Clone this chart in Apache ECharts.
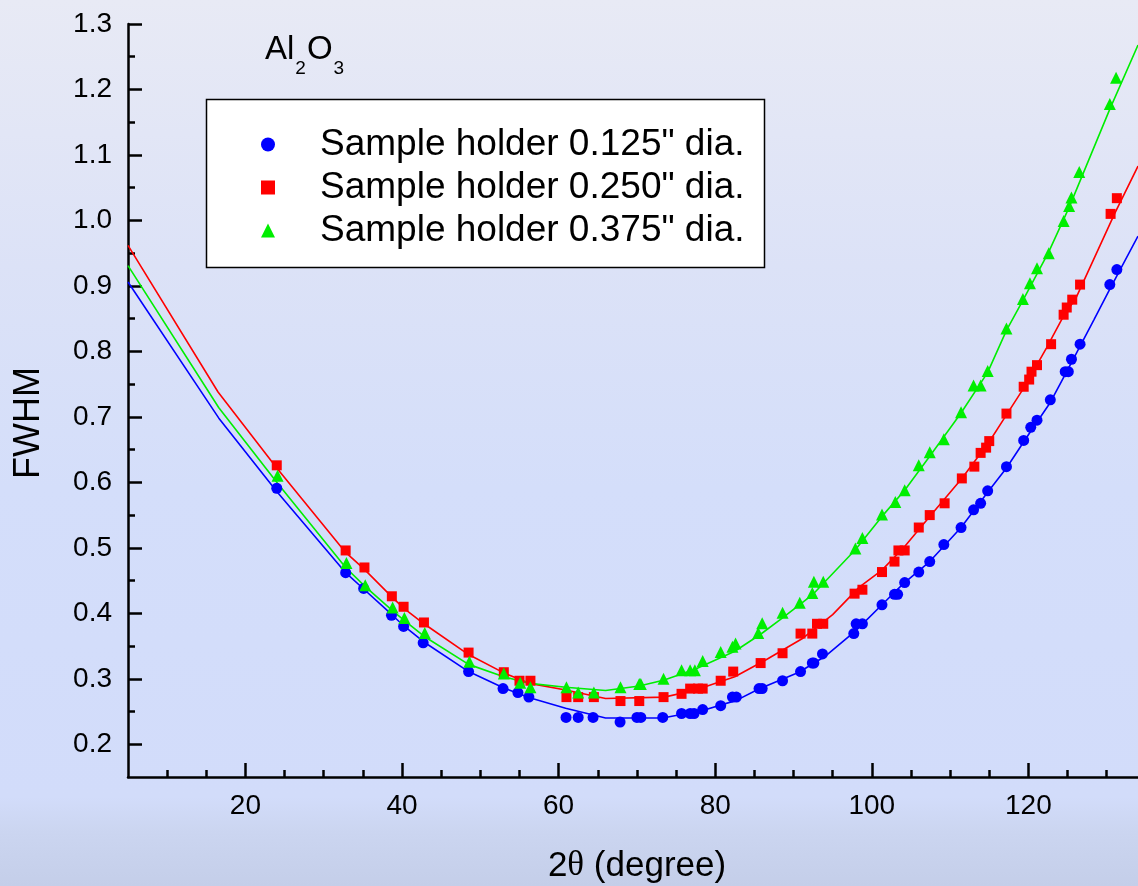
<!DOCTYPE html>
<html>
<head>
<meta charset="utf-8">
<script src="https://cdn.jsdelivr.net/npm/echarts@6/dist/echarts.min.js"></script>
<style>
  html, body { margin: 0; padding: 0; }
  #chart { width: 1138px; height: 886px; }
</style>
</head>
<body>
<div id="chart"></div>
<script>
// FWHM of Al2O3 reflections vs 2theta for three sample holder diameters

const FONT = '"Liberation Sans", Arial, sans-serif';

// Measured points, 0.125" holder
const holder125X = [24.0, 32.8, 35.1, 38.65, 40.2, 42.7, 48.5, 52.9, 54.8, 56.2, 60.95, 62.5, 64.4, 67.85, 70.0, 70.5, 73.3, 75.7, 76.8, 77.3, 78.4, 80.7, 82.2, 82.7, 85.6, 86.0, 88.6, 90.9, 92.4, 92.6, 93.7, 97.7, 98.0, 98.8, 101.3, 102.9, 103.3, 104.2, 106.0, 107.4, 109.2, 111.4, 113.0, 113.9, 114.8, 117.2, 119.4, 120.3, 121.1, 122.8, 124.7, 125.1, 125.5, 126.6, 130.4, 131.3];
const holder125Y = [0.591, 0.462, 0.438, 0.397, 0.380, 0.355, 0.311, 0.285, 0.279, 0.272, 0.241, 0.241, 0.241, 0.234, 0.241, 0.241, 0.241, 0.247, 0.247, 0.247, 0.253, 0.259, 0.272, 0.272, 0.285, 0.285, 0.297, 0.311, 0.324, 0.324, 0.338, 0.369, 0.384, 0.384, 0.413, 0.429, 0.429, 0.447, 0.463, 0.479, 0.505, 0.531, 0.558, 0.568, 0.587, 0.624, 0.664, 0.684, 0.695, 0.726, 0.769, 0.769, 0.788, 0.811, 0.902, 0.925];

// Measured points, 0.250" holder
const holder250X = [24.0, 32.8, 35.2, 38.7, 40.2, 42.8, 48.5, 53.0, 55.0, 56.4, 61.0, 62.5, 64.5, 67.9, 70.3, 73.4, 75.7, 76.8, 77.8, 78.4, 80.7, 82.3, 85.8, 88.6, 90.9, 92.4, 93.0, 93.8, 97.8, 98.8, 101.3, 102.9, 103.4, 104.2, 106.0, 107.4, 109.3, 111.5, 113.1, 113.9, 114.6, 115.0, 117.2, 119.4, 120.1, 120.4, 121.1, 122.9, 124.5, 124.9, 125.6, 126.6, 130.5, 131.3];
const holder250Y = [0.626, 0.496, 0.470, 0.426, 0.410, 0.386, 0.340, 0.310, 0.297, 0.297, 0.272, 0.272, 0.272, 0.266, 0.266, 0.272, 0.277, 0.285, 0.285, 0.285, 0.297, 0.311, 0.324, 0.339, 0.369, 0.369, 0.384, 0.384, 0.430, 0.436, 0.463, 0.479, 0.496, 0.496, 0.531, 0.550, 0.568, 0.606, 0.624, 0.645, 0.653, 0.663, 0.705, 0.746, 0.757, 0.769, 0.779, 0.811, 0.856, 0.867, 0.879, 0.902, 1.010, 1.034];

// Measured points, 0.375" holder
const holder375X = [24.1, 32.9, 35.3, 38.8, 40.3, 42.9, 48.6, 53.0, 55.1, 56.4, 61.0, 62.5, 64.5, 67.9, 70.3, 70.5, 73.4, 75.7, 76.8, 77.4, 78.4, 80.7, 82.2, 82.6, 85.5, 86.0, 88.6, 90.8, 92.4, 92.6, 93.8, 97.9, 98.8, 101.3, 103.0, 104.2, 106.0, 107.4, 109.2, 111.4, 113.0, 113.9, 114.8, 117.2, 119.3, 120.2, 121.1, 122.6, 124.5, 125.2, 125.5, 126.5, 130.4, 131.2];
const holder375Y = [0.610, 0.477, 0.443, 0.409, 0.393, 0.370, 0.326, 0.308, 0.294, 0.287, 0.287, 0.279, 0.279, 0.287, 0.292, 0.292, 0.300, 0.313, 0.313, 0.313, 0.327, 0.341, 0.349, 0.354, 0.370, 0.385, 0.401, 0.416, 0.431, 0.448, 0.448, 0.499, 0.515, 0.551, 0.570, 0.588, 0.626, 0.646, 0.666, 0.707, 0.748, 0.748, 0.770, 0.835, 0.880, 0.904, 0.927, 0.950, 0.999, 1.022, 1.035, 1.074, 1.178, 1.218];

// Fitted curves (drawn as polylines)
const fit125X = [5, 16.6, 24.0, 32.8, 35.2, 38.6, 40.2, 42.7, 48.5, 53.0, 56.3, 60.9, 66.0, 73.3, 78.5, 82.7, 85.5, 90.7, 94.0, 98.0, 101.3, 104.0, 107.4, 111.4, 114.8, 117.2, 120.3, 122.8, 125.2, 128.4, 130.4, 134];
const fit125Y = [0.906, 0.698, 0.586, 0.462, 0.436, 0.399, 0.381, 0.357, 0.311, 0.286, 0.271, 0.255, 0.240, 0.240, 0.252, 0.267, 0.284, 0.310, 0.334, 0.374, 0.413, 0.445, 0.479, 0.531, 0.585, 0.622, 0.678, 0.722, 0.776, 0.849, 0.895, 0.976];

const fit250X = [5, 16.5, 24.0, 32.8, 35.2, 38.7, 40.2, 42.8, 48.5, 53.0, 56.3, 60.9, 66.0, 73.5, 77.5, 82.5, 86.5, 91.2, 95.0, 98.4, 101.3, 104.2, 107.4, 111.5, 115.0, 117.2, 119.4, 122.3, 124.4, 126.1, 131.0, 134];
const fit250Y = [0.962, 0.738, 0.622, 0.493, 0.467, 0.425, 0.408, 0.384, 0.337, 0.309, 0.293, 0.283, 0.270, 0.272, 0.283, 0.303, 0.329, 0.362, 0.398, 0.440, 0.466, 0.502, 0.548, 0.606, 0.662, 0.703, 0.744, 0.805, 0.852, 0.882, 1.010, 1.083];

const fit375X = [5, 16.6, 24.0, 32.8, 35.2, 38.7, 40.2, 42.8, 48.5, 53.0, 56.3, 60.9, 66.0, 70.3, 73.5, 77.5, 82.5, 85.8, 88.6, 92.4, 97.9, 101.3, 104.2, 107.4, 111.4, 114.8, 117.2, 119.3, 122.6, 125.2, 130.4, 134];
const fit375Y = [0.931, 0.714, 0.600, 0.470, 0.442, 0.405, 0.390, 0.365, 0.322, 0.303, 0.293, 0.287, 0.282, 0.289, 0.298, 0.315, 0.342, 0.368, 0.393, 0.428, 0.497, 0.548, 0.588, 0.640, 0.706, 0.768, 0.832, 0.878, 0.952, 1.020, 1.170, 1.268];

// Axis ticks
const xMajorTicks = [20, 40, 60, 80, 100, 120];
const xMinorTicks = [10, 15, 25, 30, 35, 45, 50, 55, 65, 70, 75, 85, 90, 95, 105, 110, 115, 125, 130];
const yMajorTicks = [0.2, 0.3, 0.4, 0.5, 0.6, 0.7, 0.8, 0.9, 1.0, 1.1, 1.2, 1.3];
const yMinorTicks = [0.25, 0.35, 0.45, 0.55, 0.65, 0.75, 0.85, 0.95, 1.05, 1.15, 1.25];

const seriesNames = ['Sample holder 0.125" dia.', 'Sample holder 0.250" dia.', 'Sample holder 0.375" dia.'];
const seriesColors = ['#0000ff', '#ff0000', '#00ee00'];
const seriesSymbols = ['circle', 'rect', 'triangle'];
const seriesSymbolSizes = [11, 10, 12];

const zip = (xs, ys) => xs.map((x, i) => [x, ys[i]]);
const pointSets = [zip(holder125X, holder125Y), zip(holder250X, holder250Y), zip(holder375X, holder375Y)];
const fitSets = [zip(fit125X, fit125Y), zip(fit250X, fit250Y), zip(fit375X, fit375Y)];

const X_MIN = 5, X_MAX = 134, Y_MIN = 0.15, Y_MAX = 1.3;
const AXIS_COLOR = '#000';

const series = [];
fitSets.forEach((d, i) => {
  series.push({
    name: 'fit ' + i,
    type: 'line',
    data: d,
    symbol: 'none',
    silent: true,
    lineStyle: { color: seriesColors[i], width: 1.6 },
    z: 2
  });
});
pointSets.forEach((d, i) => {
  series.push({
    name: seriesNames[i],
    type: 'scatter',
    data: d,
    symbol: seriesSymbols[i],
    symbolSize: seriesSymbolSizes[i],
    itemStyle: { color: seriesColors[i], opacity: 1 },
    z: 3
  });
});

const chart = echarts.init(document.getElementById('chart'), null, { renderer: 'canvas' });

chart.setOption({
  animation: false,
  backgroundColor: new echarts.graphic.LinearGradient(0, 0, 0, 1, [
    { offset: 0, color: '#e8eaf5' },
    { offset: 0.3, color: '#dce2f7' },
    { offset: 0.55, color: '#d4defa' },
    { offset: 0.9, color: '#d2dcfa' },
    { offset: 0.94, color: '#cbd5f0' },
    { offset: 1, color: '#c4cee9' }
  ]),
  title: {
    text: '{m|Al}{s|2}{m|O}{s|3}',
    left: 265,
    top: 33,
    padding: 0,
    textStyle: {
      fontWeight: 'normal',
      rich: {
        m: { fontFamily: FONT, fontSize: 33, fontWeight: 'normal', lineHeight: 33, color: '#000', verticalAlign: 'top' },
        s: { fontFamily: FONT, fontSize: 19, fontWeight: 'normal', lineHeight: 19, color: '#000', verticalAlign: 'top', padding: [26, 1, 0, 1] }
      }
    }
  },
  legend: {
    data: seriesNames,
    orient: 'vertical',
    left: 261,
    top: 126,
    padding: 0,
    itemGap: 6,
    itemWidth: 14,
    itemHeight: 14,
    selectedMode: false,
    formatter: '{t|{name}}',
    textStyle: {
      fontFamily: FONT,
      fontSize: 37,
      color: '#000',
      rich: {
        t: { fontFamily: FONT, fontSize: 37, color: '#000', padding: [0, 0, 0, 40] }
      }
    }
  },
  graphic: [
    {
      type: 'rect',
      z: 0,
      silent: true,
      shape: { x: 206.5, y: 99.5, width: 558, height: 168 },
      style: { fill: '#ffffff', stroke: '#000', lineWidth: 1.5 }
    },
    {
      type: 'text',
      z: 5,
      silent: true,
      x: 29,
      y: 423,
      rotation: Math.PI / 2,
      style: {
        text: 'FWHM',
        font: '36px ' + FONT,
        fill: '#000',
        align: 'center',
        verticalAlign: 'middle'
      }
    },
    {
      type: 'text',
      z: 5,
      silent: true,
      x: 637,
      y: 866,
      style: {
        text: '{a|2}{t|θ}{a| (degree)}',
        align: 'center',
        verticalAlign: 'middle',
        rich: {
          a: { fontFamily: FONT, fontSize: 35, fill: '#000', color: '#000' },
          t: { fontFamily: '"Liberation Serif", serif', fontSize: 35, fill: '#000', color: '#000' }
        }
      }
    }
  ],
  grid: { left: 128, right: 0, top: 24, bottom: 109, containLabel: false },
  xAxis: [
    {
      type: 'value',
      min: X_MIN,
      max: X_MAX,
      position: 'bottom',
      axisLine: { show: true, lineStyle: { color: AXIS_COLOR, width: 2.5 } },
      axisTick: { show: true, inside: true, length: 14, customValues: xMajorTicks, lineStyle: { color: AXIS_COLOR, width: 2.5 } },
      axisLabel: { show: true, customValues: xMajorTicks, margin: 15, fontFamily: FONT, fontSize: 28, color: '#000' },
      splitLine: { show: false }
    },
    {
      type: 'value',
      min: X_MIN,
      max: X_MAX,
      position: 'bottom',
      axisLine: { show: false },
      axisTick: { show: true, inside: true, length: 7, customValues: xMinorTicks, lineStyle: { color: AXIS_COLOR, width: 2.5 } },
      axisLabel: { show: false },
      splitLine: { show: false }
    }
  ],
  yAxis: [
    {
      type: 'value',
      min: Y_MIN,
      max: Y_MAX,
      position: 'left',
      axisLine: { show: true, lineStyle: { color: AXIS_COLOR, width: 2.5 } },
      axisTick: { show: true, inside: true, length: 14, customValues: yMajorTicks, lineStyle: { color: AXIS_COLOR, width: 2.5 } },
      axisLabel: { show: true, customValues: yMajorTicks, margin: 16, fontFamily: FONT, fontSize: 28, color: '#000', formatter: v => v.toFixed(1) },
      splitLine: { show: false }
    },
    {
      type: 'value',
      min: Y_MIN,
      max: Y_MAX,
      position: 'left',
      axisLine: { show: false },
      axisTick: { show: true, inside: true, length: 7, customValues: yMinorTicks, lineStyle: { color: AXIS_COLOR, width: 2.5 } },
      axisLabel: { show: false },
      splitLine: { show: false }
    }
  ],
  series: series
});
</script>
</body>
</html>
